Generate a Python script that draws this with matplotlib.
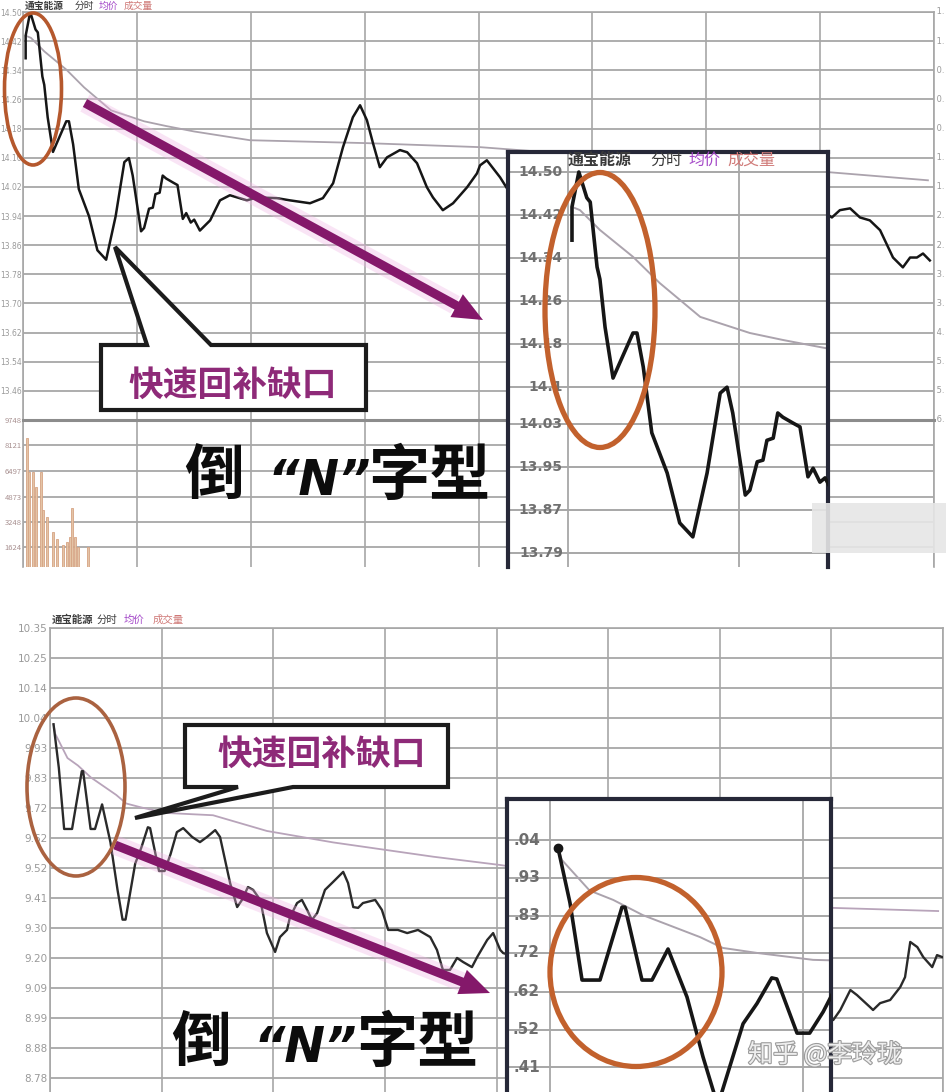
import matplotlib
matplotlib.use('Agg')
import matplotlib.pyplot as plt
from matplotlib.patches import Ellipse, Polygon, Rectangle, FancyArrow
import matplotlib.patheffects as pe

plt.rcParams['font.family'] = ['Noto Sans CJK SC', 'DejaVu Sans']

# ---------------- data (minutes since open, price) ----------------
top_price_pts = [(0.7, 14.373), (0.7, 14.435), (1.9, 14.500), (3.3, 14.452), (3.9, 14.444),
                 (5.1, 14.323), (5.6, 14.300), (6.5, 14.211), (7.9, 14.116), (11.4, 14.200),
                 (12.1, 14.200), (13.2, 14.137), (14.7, 14.014), (17.4, 13.939), (19.6, 13.846),
                 (21.9, 13.820), (24.4, 13.939), (26.7, 14.088), (27.9, 14.099), (28.9, 14.051),
                 (31.1, 13.898), (31.9, 13.907), (33.2, 13.960), (34.2, 13.963), (34.9, 14.000),
                 (36.0, 14.004), (36.8, 14.051), (37.7, 14.043), (39.5, 14.032), (40.7, 14.025),
                 (42.1, 13.932), (43.0, 13.948), (44.2, 13.922), (45.1, 13.930), (46.6, 13.900),
                 (49.3, 13.928), (51.9, 13.983), (54.5, 13.997), (59.0, 13.983), (61.6, 13.991),
                 (66.9, 13.989), (70.3, 13.983), (75.6, 13.975), (79.0, 13.989), (81.7, 14.030),
                 (84.3, 14.129), (86.9, 14.211), (88.8, 14.244), (90.6, 14.203), (92.2, 14.140),
                 (94.0, 14.074), (95.9, 14.101), (99.3, 14.121), (101.2, 14.115), (103.8, 14.085),
                 (106.4, 14.019), (108.0, 13.991), (110.6, 13.956), (113.3, 13.975), (117.0, 14.019),
                 (119.6, 14.057), (120.4, 14.079), (122.2, 14.093), (125.7, 14.046), (127.5, 14.016),
                 (140.0, 13.960), (160.0, 14.020), (180.0, 13.980), (200.0, 14.030), (213.1, 13.936),
                 (215.2, 13.956), (217.9, 13.961), (220.5, 13.936), (223.1, 13.928), (225.8, 13.901),
                 (229.2, 13.826), (231.8, 13.799), (233.7, 13.826), (235.5, 13.826), (237.1, 13.837),
                 (238.9, 13.818)]
top_avg_pts = [(0.7, 14.435), (2.1, 14.429), (5.6, 14.392), (11.4, 14.342), (16.1, 14.293),
               (23.2, 14.230), (31.9, 14.200), (37.7, 14.187), (45.1, 14.172), (59.8, 14.148),
               (90.6, 14.140), (120.4, 14.129), (170.0, 14.090), (212.6, 14.060), (238.4, 14.038)]
top_volume_pts = [(1.05, 129), (1.6, 95), (2.6, 95), (3.5, 80), (4.7, 95), (5.2, 57), (6.3, 50),
                  (7.9, 35), (9.0, 28), (10.5, 22), (11.6, 25), (12.4, 30), (12.9, 59), (13.7, 30),
                  (14.5, 20), (17.1, 20)]

bot_price_pts = [(0.95, 10.018), (2.37, 9.866), (3.80, 9.652), (5.93, 9.652), (8.54, 9.854),
                 (8.90, 9.854), (10.91, 9.652), (12.10, 9.652), (14.0, 9.738), (16.25, 9.605),
                 (18.15, 9.439), (19.5, 9.335), (20.3, 9.335), (22.9, 9.531), (24.55, 9.587),
                 (26.3, 9.658), (26.9, 9.655), (29.3, 9.505), (30.8, 9.505), (32.4, 9.564),
                 (34.1, 9.641), (35.8, 9.655), (38.2, 9.624), (40.3, 9.606), (42.2, 9.624),
                 (44.4, 9.648), (45.7, 9.624), (48.4, 9.463), (50.3, 9.379), (51.6, 9.404),
                 (53.2, 9.449), (54.6, 9.439), (56.5, 9.404), (58.3, 9.288), (60.5, 9.222),
                 (61.8, 9.274), (63.7, 9.299), (64.5, 9.344), (66.4, 9.393), (67.7, 9.404),
                 (69.1, 9.369), (70.4, 9.334), (71.8, 9.358), (73.9, 9.439), (76.1, 9.467),
                 (78.8, 9.502), (80.1, 9.463), (81.5, 9.379), (82.8, 9.376), (84.1, 9.393),
                 (87.4, 9.404), (89.2, 9.369), (90.9, 9.299), (93.5, 9.299), (96.0, 9.288),
                 (98.9, 9.299), (102.2, 9.274), (104.0, 9.229), (105.6, 9.159), (107.5, 9.159),
                 (109.4, 9.201), (111.0, 9.187), (113.4, 9.169), (114.8, 9.204), (117.5, 9.264),
                 (119.1, 9.288), (121.0, 9.229), (121.8, 9.218), (140.0, 9.150), (160.0, 9.080),
                 (180.0, 9.100), (200.0, 9.020), (210.5, 8.984), (212.4, 9.019), (215.1, 9.089),
                 (216.9, 9.071), (220.4, 9.029), (221.2, 9.019), (223.1, 9.043), (225.8, 9.054),
                 (228.5, 9.099), (229.8, 9.134), (231.2, 9.257), (233.1, 9.239), (234.7, 9.204),
                 (237.1, 9.169), (238.4, 9.211), (239.8, 9.204)]
bot_avg_pts = [(0.95, 10.018), (1.4, 9.985), (4.7, 9.900), (7.5, 9.874), (11.0, 9.832),
               (17.8, 9.771), (20.5, 9.741), (24.6, 9.727), (31.2, 9.708), (43.8, 9.700),
               (58.3, 9.645), (76.1, 9.605), (103.0, 9.555), (121.0, 9.526), (165.0, 9.440),
               (210.5, 9.376), (238.7, 9.365)]

top_main_ticks = ["14.50", "14.42", "14.34", "14.26", "14.18", "14.10", "14.02", "13.94",
                  "13.86", "13.78", "13.70", "13.62", "13.54", "13.46", ""]
top_right_ticks = ["1.", "1.", "0.", "0.", "0.", "1.", "1.", "2.",
                   "2.", "3.", "3.", "4.", "5.", "5.", "6."]
top_vol_ticks = ["9748", "8121", "6497", "4873", "3248", "1624"]
top_inset_ticks = [14.50, 14.42, 14.34, 14.26, 14.18, 14.10, 14.03, 13.95, 13.87, 13.79]
bot_main_ticks = ["10.35", "10.25", "10.14", "10.04", "9.93", "9.83", "9.72", "9.62",
                  "9.52", "9.41", "9.30", "9.20", "9.09", "8.99", "8.88", "8.78"]
bot_inset_ticks = [10.04, 9.935, 9.83, 9.727, 9.619, 9.514, 9.411]
bot_inset_labels = [".04", ".93", ".83", ".72", ".62", ".52", ".41"]

header = ["通宝能源", "分时", "均价", "成交量"]

# ---------------- figure ----------------
W, H = 946, 1092
fig = plt.figure(figsize=(W / 100, H / 100), dpi=100)
fig.patch.set_facecolor('white')

GRID = '#a7a7a7'
LINE = '#161616'
AVG = '#aba3ad'


def px_axes(x0, y0, x1, y1, z=1):
    return fig.add_axes([x0 / W, 1 - y1 / H, (x1 - x0) / W, (y1 - y0) / H], zorder=z)


def unzip(pts):
    return [a for a, _ in pts], [b for _, b in pts]


def style(ax, spine_color=GRID, lw=1.2):
    for s in ax.spines.values():
        s.set_color(spine_color)
        s.set_linewidth(lw)
    ax.tick_params(length=0)
    ax.set_xticks([])


# ---- top main chart ----
axT = px_axes(23, 12, 934, 420)
axT.set_xlim(0, 240)
axT.set_ylim(13.38, 14.50)
style(axT)
tvals = [14.50 - 0.08 * k for k in range(15)]
for v in tvals:
    axT.axhline(v, color=GRID, lw=1.3, zorder=0)
for m in range(0, 241, 30):
    axT.axvline(m, color=GRID, lw=1.2, zorder=0)
axT.set_yticks(tvals, top_main_ticks)
axT.tick_params(axis='y', labelsize=5.5, colors='#9a9a9a', pad=1)
for lab in axT.get_yticklabels():
    lab.set_family('DejaVu Sans')
for v, s in zip(tvals, top_right_ticks):
    axT.text(240, v, ' ' + s, ha='left', va='center', fontsize=6, color='#9a9a9a',
             family='DejaVu Sans', clip_on=False)
t, p = unzip(top_price_pts)
axT.plot(t, p, color=LINE, lw=1.8, solid_joinstyle='round', zorder=3)
t, p = unzip(top_avg_pts)
axT.plot(t, p, color=AVG, lw=1.3, zorder=2)

# ---- top volume ----
axV = px_axes(23, 420, 934, 567)
axV.set_xlim(0, 240)
axV.set_ylim(0, 147)
style(axV)
axV.spines['bottom'].set_visible(False)
axV.spines['top'].set_color('#8c8c8c')
axV.spines['top'].set_linewidth(2.2)
vlines = [147, 122, 96, 70, 45, 20]
for v in vlines[1:]:
    axV.axhline(v, color=GRID, lw=1.3, zorder=0)
for m in range(0, 241, 30):
    axV.axvline(m, color=GRID, lw=1.2, zorder=0)
axV.set_yticks(vlines, top_vol_ticks)
axV.tick_params(axis='y', labelsize=5.5, colors='#a89090', pad=1)
vt, vv = unzip(top_volume_pts)
axV.bar(vt, vv, width=0.55, color='#e4c4a6', edgecolor='#d6a484', lw=0.6, zorder=2)

# ---- top inset ----
axI = px_axes(508, 152, 828, 567, z=3)
axI.set_facecolor('white')
axI.set_xlim(-10.526, 45.614)
axI.set_ylim(13.7639, 14.5373)
for s in axI.spines.values():
    s.set_color('#262838')
    s.set_linewidth(3)
axI.spines['bottom'].set_visible(False)
axI.tick_params(length=0)
axI.set_xticks([])
axI.set_yticks([])
for v in top_inset_ticks:
    axI.axhline(v, color=GRID, lw=1.4, zorder=0)
for m in (0, 30):
    axI.axvline(m, color=GRID, lw=1.3, zorder=0)
for v in top_inset_ticks:
    axI.text(-0.9, v, f"{v:.2f}".replace('14.10', '14.1'), ha='right', va='center', fontsize=10,
             color='#707070', fontweight='bold', family='DejaVu Sans', zorder=1)
t, p = unzip(top_price_pts)
axI.plot(t, p, color=LINE, lw=2.6, solid_joinstyle='round', zorder=3)
t, p = unzip(top_avg_pts)
axI.plot(t, p, color=AVG, lw=1.4, zorder=2)

# ---- bottom main chart ----
axB = px_axes(50, 628, 943, 1092)
axB.set_xlim(0, 240)
axB.set_ylim(8.7323, 10.3547)
style(axB)
axB.spines['bottom'].set_visible(False)
bvals = [10.3547 - k * 30 / 286 for k in range(16)]
for v in bvals:
    axB.axhline(v, color=GRID, lw=1.3, zorder=0)
for m in range(0, 241, 30):
    axB.axvline(m, color=GRID, lw=1.2, zorder=0)
axB.set_yticks(bvals, bot_main_ticks)
axB.tick_params(axis='y', labelsize=7.5, colors='#9a9a9a', pad=2)
for lab in axB.get_yticklabels():
    lab.set_family('DejaVu Sans')
t, p = unzip(bot_price_pts)
axB.plot(t, p, color='#2a2a2a', lw=1.7, solid_joinstyle='round', zorder=3)
t, p = unzip(bot_avg_pts)
axB.plot(t, p, color='#b8a4ba', lw=1.3, zorder=2)

# ---- bottom inset ----
axJ = px_axes(507, 799, 831, 1092, z=3)
axJ.set_facecolor('white')
axJ.set_xlim(-5.10, 33.33)
axJ.set_ylim(9.3419, 10.1536)
for s in axJ.spines.values():
    s.set_color('#262838')
    s.set_linewidth(3)
axJ.spines['bottom'].set_visible(False)
axJ.tick_params(length=0)
axJ.set_xticks([])
axJ.set_yticks([])
for v in bot_inset_ticks:
    axJ.axhline(v, color=GRID, lw=1.4, zorder=0)
for m in (0, 30):
    axJ.axvline(m, color=GRID, lw=1.3, zorder=0)
for v, s in zip(bot_inset_ticks, bot_inset_labels):
    axJ.text(-1.2, v, s, ha='right', va='center', fontsize=11, color='#6e6e6e',
             fontweight='bold', family='DejaVu Sans', zorder=1)
t, p = unzip(bot_price_pts)
axJ.plot(t, p, color=LINE, lw=2.6, solid_joinstyle='round', zorder=3,
         marker='o', markersize=6, markevery=[0])
t, p = unzip(bot_avg_pts)
axJ.plot(t, p, color=AVG, lw=1.4, zorder=2)

# ---------------- overlay annotations (pixel space) ----------------
ov = fig.add_axes([0, 0, 1, 1], zorder=10)
ov.set_xlim(0, W)
ov.set_ylim(H, 0)
ov.axis('off')
ov.patch.set_alpha(0)


def header_row(x, y, fs, gaps):
    cols = ['#3a3a3a', '#3a3a3a', '#a448c8', '#d07a78']
    xx = x
    for txt, c, g in zip(header, cols, gaps):
        ov.text(xx, y, txt, fontsize=fs, color=c, ha='left', va='center',
                fontweight='bold' if txt == header[0] else 'normal')
        xx += g

header_row(25, 6, 7, [50, 24, 25, 0])
header_row(568, 160, 11.5, [82, 38, 39, 0])
header_row(52, 620, 7.5, [45, 27, 29, 0])

# ellipses
ov.add_patch(Ellipse((33, 89), 57, 152, fill=False, ec='#b5582d', lw=2.6, zorder=5))
ov.add_patch(Ellipse((600, 310), 110, 275, fill=False, ec='#c2612d', lw=3.8, zorder=5))
ov.add_patch(Ellipse((76, 787), 98, 178, fill=False, ec='#aa6240', lw=2.6, zorder=5))
ov.add_patch(Ellipse((636, 972), 172, 189, fill=False, ec='#c2612d', lw=3.8, zorder=5))


def purple_arrow(x0, y0, x1, y1):
    ov.plot([x0, x0 + 0.93 * (x1 - x0)], [y0, y0 + 0.93 * (y1 - y0)], color='#f0b4e4',
            lw=14, alpha=0.35, solid_capstyle='butt', zorder=3)
    ov.add_patch(FancyArrow(x0, y0, x1 - x0, y1 - y0, width=9, head_width=26,
                            head_length=30, length_includes_head=True,
                            fc='#84186a', ec='none', zorder=4))

purple_arrow(85, 103, 483, 320)
purple_arrow(115, 845, 490, 993)

# callouts
ov.add_patch(Polygon([(101, 345), (147, 345), (115, 247), (211, 345), (366, 345),
                      (366, 410), (101, 410)], closed=True, fc='white', ec='#1c1c1c',
                     lw=3, joinstyle='miter', zorder=4))
ov.text(233, 385, "快速回补缺口", ha='center', va='center', fontsize=25,
        color='#8e2a78', fontweight='bold', zorder=6)
ov.add_patch(Polygon([(185, 725), (448, 725), (448, 787), (293, 787), (135, 818),
                      (238, 787), (185, 787)], closed=True, fc='white', ec='#1c1c1c',
                     lw=3, joinstyle='miter', zorder=4))
ov.text(322, 754, "快速回补缺口", ha='center', va='center', fontsize=25,
        color='#8e2a78', fontweight='bold', zorder=6)


def big_title(x_dao, x_n, x_zi, base):
    ov.text(x_dao, base, "倒", ha='left', va='baseline', fontsize=43,
            fontweight='heavy', color='#0c0c0c', zorder=6)
    ov.text(x_n, base, "“N”", ha='left', va='baseline', fontsize=35,
            fontweight='bold', fontstyle='italic', family='DejaVu Sans', color='#0c0c0c',
            zorder=6)
    ov.text(x_zi, base, "字型", ha='left', va='baseline', fontsize=44,
            fontweight='heavy', color='#0c0c0c', zorder=6)

big_title(184, 268, 368, 495)
big_title(171, 254, 356, 1062)

# blurred watermark patches
ov.add_patch(Rectangle((812, 503), 134, 50, fc='#e6e6e6', ec='none', alpha=0.9, zorder=5))
ov.text(748, 1055, "知乎 @李玲珑", ha='left', va='center', fontsize=18, color='#eeeeee',
        zorder=7, path_effects=[pe.Stroke(linewidth=1.6, foreground='#9c9c9c'), pe.Normal()])

fig.savefig('out.png', dpi=100, facecolor='white')
